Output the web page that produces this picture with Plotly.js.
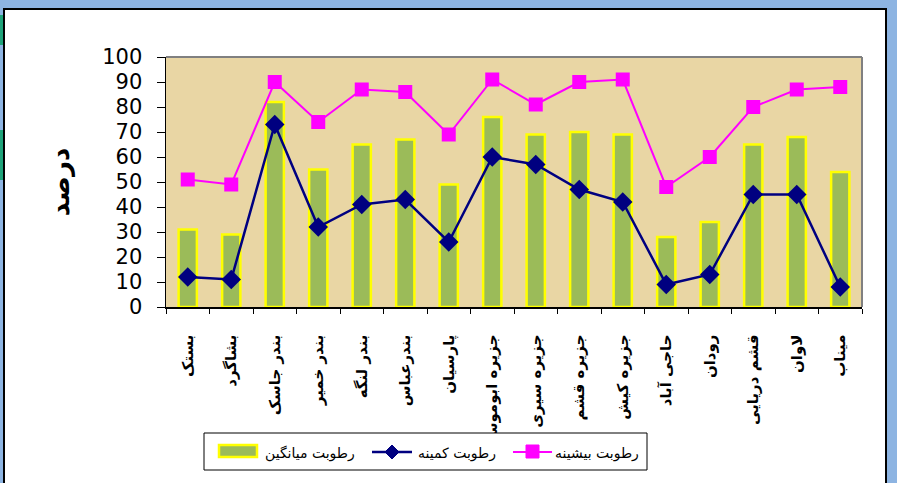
<!DOCTYPE html>
<html>
<head>
<meta charset="utf-8">
<script src="https://cdn.plot.ly/plotly-3.0.1.min.js"></script>
<style>
  html, body { margin:0; padding:0; width:897px; height:483px; overflow:hidden; background:#8DB4E2; }
  #frame { position:absolute; left:3px; top:8px; width:884px; height:480px; background:#ffffff; border:2px solid #000; box-sizing:border-box; }
  .strip { position:absolute; left:0; width:3px; background:#1FA37A; }
  #chart { position:absolute; left:0; top:0; width:897px; height:483px; }
</style>
</head>
<body>
<div class="strip" style="top:15px;height:30px"></div>
<div class="strip" style="top:130px;height:50px"></div>
<div id="frame"></div>
<div id="chart"></div>
<script>
const categories = ["بستک","بشاگرد","بندر جاسک","بندر خمیر","بندر لنگه","بندرعباس","پارسیان","جزیره ابوموسی","جزیره سیری","جزیره قشم","جزیره کیش","حاجی آباد","رودان","قشم دریایی","لاوان","میناب"];
const avgHumidity = [31, 29, 82, 55, 65, 67, 49, 76, 69, 70, 69, 28, 34, 65, 68, 54];
const minHumidity = [12, 11, 73, 32, 41, 43, 26, 60, 57, 47, 42, 9, 13, 45, 45, 8];
const maxHumidity = [51, 49, 90, 74, 87, 86, 69, 91, 81, 90, 91, 48, 60, 80, 87, 88];
const seriesNames = ["رطوبت میانگین", "رطوبت کمینه", "رطوبت بیشینه"];
const yTitle = "درصد";
const yTicks = [0,10,20,30,40,50,60,70,80,90,100];

const colAvg = '#9BBB59', colAvgLine = '#FFFF00', colMin = '#000080', colMax = '#FF00FF';

const traces = [
  {type:'bar', name:seriesNames[0], x:categories, y:avgHumidity, showlegend:false,
   marker:{color:colAvg, line:{color:colAvgLine, width:2.5}}, width:0.42},
  {type:'scatter', mode:'lines+markers', name:seriesNames[1], x:categories, y:minHumidity, showlegend:false,
   line:{color:colMin, width:2.5}, marker:{symbol:'diamond', size:15, color:colMin}},
  {type:'scatter', mode:'lines+markers', name:seriesNames[2], x:categories, y:maxHumidity, showlegend:false,
   line:{color:colMax, width:2}, marker:{symbol:'square', size:14, color:colMax}}
];

// plot area in pixels: x 166..862, y 57..307
const PL = 166, PW = 696, PT = 57, PH = 250;
const px = v => (v - PL) / PW;
const py = v => (PT + PH - v) / PH;

const shapes = [
  {type:'line', xref:'paper', yref:'paper', x0:0, x1:1, y0:1, y1:1, line:{color:'#808080', width:2}},
  {type:'line', xref:'paper', yref:'paper', x0:1, x1:1, y0:0, y1:1, line:{color:'#808080', width:2}},
  // legend box
  {type:'rect', xref:'paper', yref:'paper', x0:px(204), x1:px(647), y0:py(470), y1:py(433),
   fillcolor:'#ffffff', line:{color:'#000', width:1}},
  // avg swatch
  {type:'rect', xref:'paper', yref:'paper', x0:px(219), x1:px(257), y0:py(457), y1:py(445),
   fillcolor:colAvg, line:{color:colAvgLine, width:2.5}},
  // min line + diamond
  {type:'line', xref:'paper', yref:'paper', x0:px(372), x1:px(412), y0:py(452), y1:py(452), line:{color:colMin, width:2.5}},
  {type:'path', xref:'paper', yref:'paper',
   path:`M ${px(392)} ${py(445)} L ${px(399)} ${py(452)} L ${px(392)} ${py(459)} L ${px(385)} ${py(452)} Z`,
   fillcolor:colMin, line:{color:colMin, width:1}},
  // max line + square
  {type:'line', xref:'paper', yref:'paper', x0:px(513), x1:px(552), y0:py(452), y1:py(452), line:{color:colMax, width:2}},
  {type:'rect', xref:'paper', yref:'paper', x0:px(526), x1:px(539), y0:py(458), y1:py(445),
   fillcolor:colMax, line:{color:colMax, width:1}}
];

const legendFont = {family:'DejaVu Sans', size:14, color:'#000'};
const annotations = [
  {xref:'paper', yref:'paper', x:px(310), y:py(453), xanchor:'center', yanchor:'middle', showarrow:false, text:seriesNames[0], font:legendFont},
  {xref:'paper', yref:'paper', x:px(457), y:py(453), xanchor:'center', yanchor:'middle', showarrow:false, text:seriesNames[1], font:legendFont},
  {xref:'paper', yref:'paper', x:px(597), y:py(453), xanchor:'center', yanchor:'middle', showarrow:false, text:seriesNames[2], font:legendFont}
];

const layout = {
  width:897, height:483,
  margin:{l:PL, r:897 - PL - PW, t:PT, b:483 - PT - PH},
  paper_bgcolor:'rgba(0,0,0,0)',
  plot_bgcolor:'#E9D6A4',
  showlegend:false,
  xaxis:{type:'category', range:[-0.5, categories.length - 0.5], tickangle:-90, showline:true, linecolor:'#000', linewidth:1.5,
         ticks:'outside', tickson:'boundaries', ticklen:5, tickcolor:'#000',
         tickfont:{family:'DejaVu Sans', size:15, color:'#000', weight:'bold'},
         showgrid:false, zeroline:false, ticklabelstandoff:20},
  yaxis:{range:[0,100], tickvals:yTicks, ticktext:yTicks.map(String), showline:true,
         linecolor:'#000', linewidth:1.5, ticks:'outside', ticklen:8, tickcolor:'#000',
         tickfont:{family:'DejaVu Sans', size:21, color:'#000'}, showgrid:false, zeroline:false,
         ticklabelstandoff:10,
         title:{text:yTitle, font:{family:'DejaVu Sans', size:26, color:'#000', weight:'bold'}, standoff:25}},
  shapes:shapes,
  annotations:annotations
};

Plotly.newPlot('chart', traces, layout, {displayModeBar:false, staticPlot:true});
</script>
</body>
</html>
